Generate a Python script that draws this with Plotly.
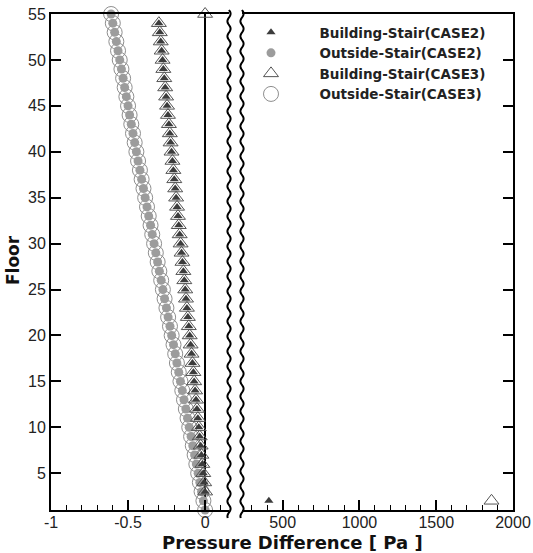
import math
import plotly.graph_objects as go

# ---------------- data ----------------
floors_outside = list(range(1, 56))
outside_case2 = [0.000, -0.011, -0.023, -0.034, -0.045, -0.057, -0.068, -0.080, -0.091, -0.103,
                 -0.114, -0.125, -0.137, -0.148, -0.160, -0.171, -0.183, -0.194, -0.205, -0.217,
                 -0.228, -0.240, -0.251, -0.263, -0.274, -0.285, -0.297, -0.308, -0.320, -0.331,
                 -0.343, -0.354, -0.366, -0.377, -0.389, -0.400, -0.412, -0.423, -0.435, -0.446,
                 -0.457, -0.468, -0.479, -0.490, -0.500, -0.511, -0.522, -0.532, -0.543, -0.554,
                 -0.565, -0.576, -0.587, -0.599, -0.610]
outside_case3 = list(outside_case2)

floors_building = list(range(3, 55))
building_case2 = [0.000, -0.006, -0.012, -0.018, -0.024, -0.029, -0.035, -0.041, -0.047, -0.053,
                  -0.059, -0.065, -0.071, -0.076, -0.082, -0.088, -0.094, -0.100, -0.106, -0.112,
                  -0.118, -0.124, -0.129, -0.135, -0.141, -0.147, -0.153, -0.159, -0.165, -0.171,
                  -0.176, -0.182, -0.188, -0.194, -0.200, -0.206, -0.212, -0.218, -0.224, -0.229,
                  -0.235, -0.241, -0.247, -0.253, -0.259, -0.265, -0.271, -0.276, -0.282, -0.288,
                  -0.294, -0.300]
building_case3 = list(building_case2)
floors_building_case3_top = [55]
building_case3_top = [0.0]

# large values (right panel of broken axis)
floors_big_case2 = [2]
building_big_case2 = [410]
floors_big_case3 = [2]
building_big_case3 = [1860]

left_tickvals = [-1, -0.5, 0]
left_ticktext = ["-1", "-0.5", "0"]
right_tickvals = [500, 1000, 1500, 2000]
right_ticktext = ["500", "1000", "1500", "2000"]
y_tickvals = [5, 10, 15, 20, 25, 30, 35, 40, 45, 50, 55]

names = ["Building-Stair(CASE2)", "Outside-Stair(CASE2)",
         "Building-Stair(CASE3)", "Outside-Stair(CASE3)"]

# ---------------- styles ----------------
FONT = "Arial, 'Liberation Sans', sans-serif"
BFONT = "'DejaVu Sans', Arial, sans-serif"
W, H = 533, 553
ML, MR, MT, MB = 51, 20, 14, 43
PW, PH = W - ML - MR, H - MT - MB
BREAK_L, BREAK_R = 229, 242  # pixel x of the break lines
PAD = "\u00a0" * 5  # gap between legend symbol and text

m_b2 = dict(symbol="triangle-up", size=8, color="#3c3c3c", line=dict(width=0))
m_o2 = dict(symbol="circle", size=9, color="#9c9c9c", line=dict(width=0))
m_b3 = dict(symbol="triangle-up-open", size=13, color="#555555", line=dict(width=1))
m_o3 = dict(symbol="circle-open", size=15, color="#8e8e8e", line=dict(width=1))

fig = go.Figure()

# left panel
fig.add_trace(go.Scatter(x=outside_case3, y=floors_outside, mode="markers", marker=m_o3,
                         name=PAD + names[3], legendgroup="o3", legendrank=4, cliponaxis=False,
                         xaxis="x", yaxis="y"))
fig.add_trace(go.Scatter(x=outside_case2, y=floors_outside, mode="markers", marker=m_o2,
                         name=PAD + names[1], legendgroup="o2", legendrank=2, cliponaxis=False,
                         xaxis="x", yaxis="y"))
fig.add_trace(go.Scatter(x=building_case3 + building_case3_top,
                         y=floors_building + floors_building_case3_top, mode="markers", marker=m_b3,
                         name=PAD + names[2], legendgroup="b3", legendrank=3, cliponaxis=False,
                         xaxis="x", yaxis="y"))
fig.add_trace(go.Scatter(x=building_case2, y=floors_building, mode="markers", marker=m_b2,
                         name=PAD + names[0], legendgroup="b2", legendrank=1, cliponaxis=False,
                         xaxis="x", yaxis="y"))
# right panel
fig.add_trace(go.Scatter(x=building_big_case2, y=floors_big_case2, mode="markers", marker=m_b2,
                         name=names[0], legendgroup="b2", showlegend=False, cliponaxis=False,
                         xaxis="x2", yaxis="y2"))
fig.add_trace(go.Scatter(x=building_big_case3, y=floors_big_case3, mode="markers", marker=m_b3,
                         name=names[2], legendgroup="b3", showlegend=False, cliponaxis=False,
                         xaxis="x2", yaxis="y2"))

d_left = (BREAK_L - ML) / PW
d_right = (BREAK_R - ML) / PW

axis_common = dict(showline=True, linecolor="black", linewidth=2, showgrid=False,
                   ticks="inside", ticklen=10, tickwidth=1.5, tickcolor="black",
                   automargin=False,
                   tickfont=dict(family=FONT, size=16, color="#222"))

fig.update_layout(
    width=W, height=H,
    margin=dict(l=ML, r=MR, t=MT, b=MB, pad=0, autoexpand=False),
    paper_bgcolor="white", plot_bgcolor="white",
    showlegend=True,
    legend=dict(x=(246 - ML) / PW, y=(H - MB - 17) / PH, xanchor="left", yanchor="top",
                font=dict(family=BFONT, size=13.5, color="#222", weight="bold"),
                bgcolor="rgba(0,0,0,0)", itemwidth=40, tracegroupgap=0,
                traceorder="normal"),
    xaxis=dict(domain=[0, d_left], range=[-1, 0.155], anchor="y",
               tickvals=left_tickvals, ticktext=left_ticktext, ticklabelstandoff=-3,
               minor=dict(ticks="inside", ticklen=5, tickwidth=1, tickcolor="black", dtick=0.1, tick0=0),
               zeroline=True, zerolinecolor="black", zerolinewidth=2,
               mirror=True, **axis_common),
    xaxis2=dict(domain=[d_right, 1], range=[235, 2000], anchor="y2",
                tickvals=right_tickvals, ticktext=right_ticktext, ticklabelstandoff=-3,
                minor=dict(ticks="inside", ticklen=5, tickwidth=1, tickcolor="black", dtick=100, tick0=0),
                zeroline=False, mirror=True, **axis_common),
    yaxis=dict(domain=[0, 1], range=[1, 55], anchor="x", side="left",
               tickvals=y_tickvals, zeroline=False, **axis_common),
    yaxis2=dict(domain=[0, 1], range=[1, 55], anchor="x2", side="right", matches="y",
                tickvals=y_tickvals, showticklabels=False, zeroline=False, **axis_common),
)

# axis titles
fig.add_annotation(text="<b>Pressure Difference [ Pa ]</b>", xref="paper", yref="paper",
                   x=(292 - ML) / PW, y=(H - MB - 542) / PH, showarrow=False,
                   xanchor="center", yanchor="middle",
                   font=dict(family=BFONT, size=18, color="#111"))
fig.add_annotation(text="<b>Floor</b>", xref="paper", yref="paper",
                   x=(13 - ML) / PW, y=(H - MB - 260) / PH, showarrow=False, textangle=-90,
                   xanchor="center", yanchor="middle",
                   font=dict(family=BFONT, size=17, color="#111"))

# wavy break lines
def wavy_path(px, top, bottom, period=15.0, amp=1.6):
    pts = []
    n = int(bottom - top)
    for i in range(n + 1):
        py = top + (bottom - top) * i / n
        xx = px + amp * math.sin(2 * math.pi * (py - top) / period)
        pts.append(((xx - ML) / PW, (H - MB - py) / PH))
    return "M " + " L ".join(f"{a:.5f},{b:.5f}" for a, b in pts)

for bx in (BREAK_L, BREAK_R):
    fig.add_shape(type="path", xref="paper", yref="paper", path=wavy_path(bx, 10, 518),
                  line=dict(color="black", width=2), layer="above")

fig.write_html("out.html")
